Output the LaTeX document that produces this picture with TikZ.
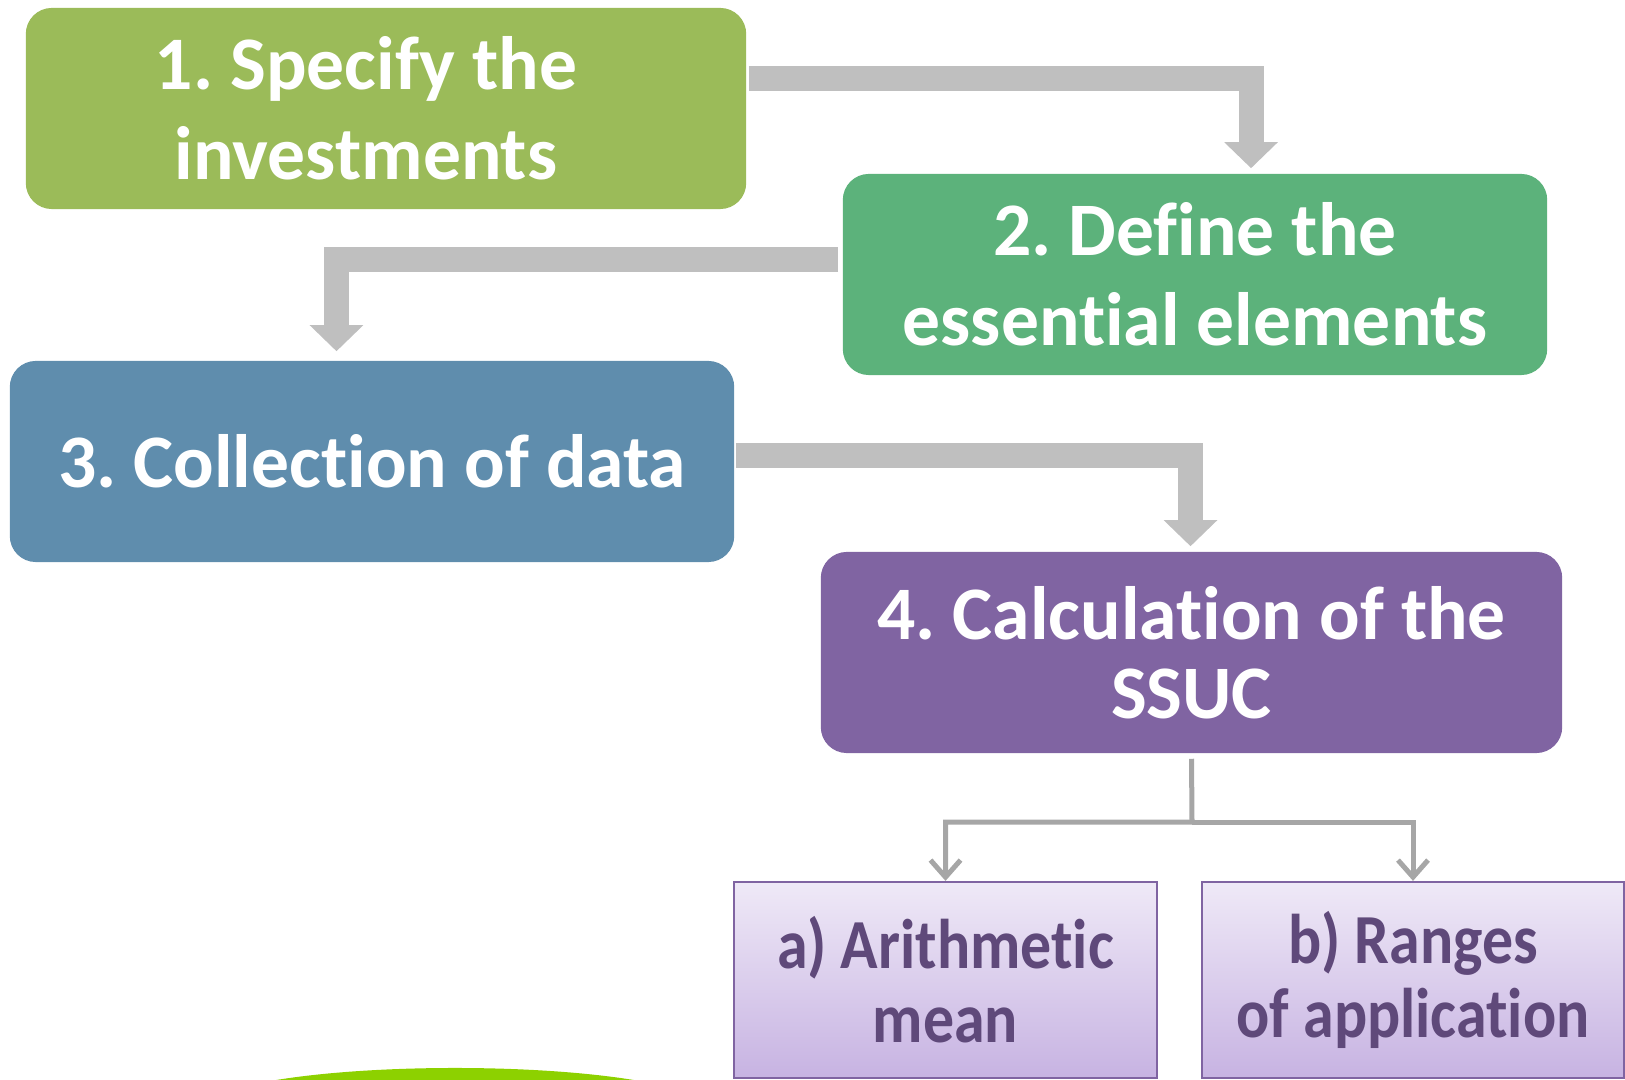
\documentclass[tikz,border=0pt]{standalone}
\usepackage{fontspec}
\setmainfont{Carlito}[Ligatures=NoCommon]
\newfontfamily\subfont{Carlito}[Ligatures=NoCommon, FakeStretch=0.88]
\usetikzlibrary{arrows.meta}
\frenchspacing

\definecolor{stepgreen}{HTML}{9BBB59}
\definecolor{stepteal}{HTML}{5CB27B}
\definecolor{stepblue}{HTML}{5F8DAD}
\definecolor{steppurple}{HTML}{8064A2}
\definecolor{arrowgray}{HTML}{BFBFBF}
\definecolor{linegray}{HTML}{A6A6A6}
\definecolor{subtop}{HTML}{EFE9F7}
\definecolor{subbottom}{HTML}{C7B3E2}
\definecolor{subtext}{HTML}{5F497A}
\definecolor{limegreen}{HTML}{8DD100}

\tikzset{
  stepbox/.style={rounded corners=0.26cm, text=white, align=center, inner sep=0pt,
    minimum height=2.01cm, font=\bfseries\fontsize{21.5}{25.5}\selectfont},
  subbox/.style={draw=steppurple, line width=0.6pt, top color=subtop, bottom color=subbottom,
    text=subtext, align=center, inner sep=0pt, minimum width=4.22cm, minimum height=1.96cm,
    font=\subfont\bfseries\fontsize{20}{21}\selectfont},
  flowarrow/.style={draw=arrowgray, line width=0.25cm, -{Triangle[width=0.52cm, length=0.26cm]}},
  branch/.style={draw=linegray, line width=0.05cm, -{Straight Barb[length=0.17cm, width=0.3cm]}}
}

\begin{document}
\begin{tikzpicture}[x=0.01cm, y=-0.01cm]

    % Fix the page size
    \useasboundingbox (0,0) rectangle (1625,1080);

    % Green shape peeking in at the bottom
    \begin{scope}
      \clip (0,0) rectangle (1625,1080);
      \fill[limegreen] (455,1108) ellipse [x radius=2.5cm, y radius=0.4cm];
    \end{scope}

    % The four main steps
    \node[stepbox, fill=stepgreen, minimum width=7.20cm] (s1) at (386,108.5)
      {1. Specify the\hspace*{0.4cm}\\investments\hspace*{0.4cm}};
    \node[stepbox, fill=stepteal, minimum width=7.04cm] (s2) at (1195,274.5)
      {2. Define the\\essential elements};
    \node[stepbox, fill=stepblue, minimum width=7.24cm] (s3) at (372,461.5)
      {3. Collection of data};
    \node[stepbox, fill=steppurple, minimum width=7.41cm,
      font=\bfseries\fontsize{21.5}{22.5}\selectfont] (s4) at (1191.5,652.5)
      {4. Calculation of the\\SSUC};

    % The two sub-steps
    \node[subbox] (a) at (945.5,980) {a) Arithmetic\\mean};
    \node[subbox] (b) at (1413,980) {b) Ranges\\of application};

    % Bent arrows between the steps
    \draw[flowarrow] ([xshift=0.02cm, yshift=0.295cm]s1.east) -| ([xshift=0.56cm, yshift=0.05cm]s2.north);
    \draw[flowarrow] ([xshift=-0.04cm, yshift=0.145cm]s2.west) -| ([xshift=-0.355cm, yshift=0.09cm]s3.north);
    \draw[flowarrow] ([xshift=0.01cm, yshift=0.055cm]s3.east) -| ([xshift=-0.01cm, yshift=0.05cm]s4.north);

    % Fork from step 4 to the sub-steps
    \coordinate (fork) at (1192,822);
    \draw[branch] ([yshift=-0.05cm]s4.south) -- (fork) -| (a.north);
    \draw[branch] (fork) -| (b.north);

\end{tikzpicture}
\end{document}
